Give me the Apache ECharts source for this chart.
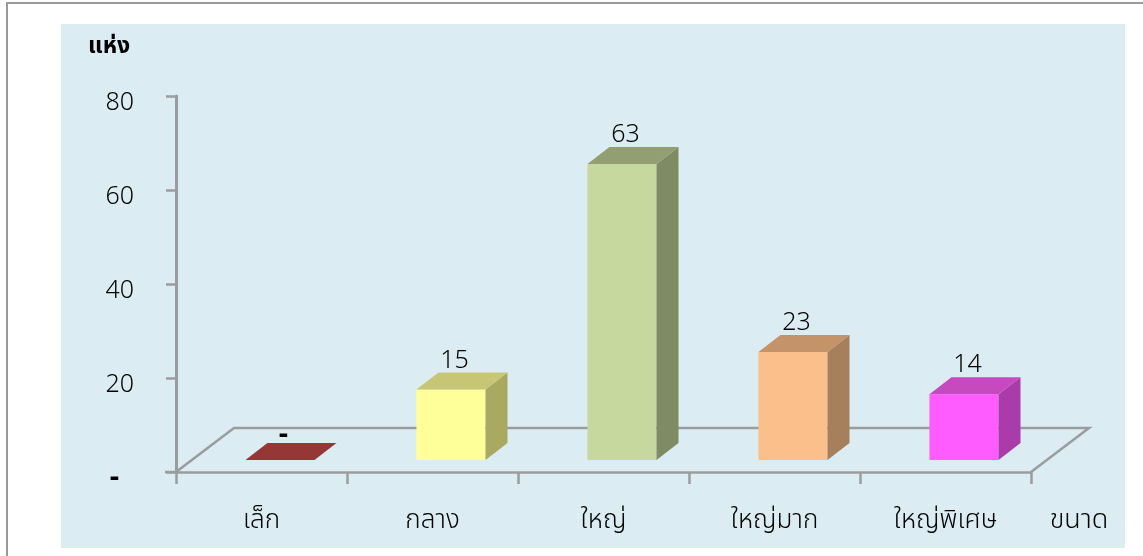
<!DOCTYPE html>
<html>
<head>
<meta charset="utf-8">
<style>html,body{margin:0;padding:0;background:#fff}#chart{width:1143px;height:556px}</style>
<script src="https://cdn.jsdelivr.net/npm/echarts@6/dist/echarts.min.js"></script>
</head>
<body>
<div id="chart"></div>
<script>
const categories = ['เล็ก', 'กลาง', 'ใหญ่', 'ใหญ่มาก', 'ใหญ่พิเศษ'];
const values = [0, 15, 63, 23, 14];
const yTicks = [0, 20, 40, 60, 80];

// face, top, side
const palette = [
  ['#953735', '#953735', '#953735'],
  ['#FFFF99', '#C6C674', '#A9A962'],
  ['#C6D89E', '#929F73', '#7E8B63'],
  ['#FBBF8C', '#C59369', '#A67F5C'],
  ['#FF5CFF', '#C649BF', '#A93CA8']
];

const font = '"Noto Sans Thai", Inter, "Noto Sans", sans-serif';
const axisColor = '#9A9C9E';
const depthX = 22, depthY = 17, floorX = 58, floorY = 44, baseLift = 12;

function formatValue(v) {
  return v === 0 ? '-' : String(v);
}

// floor of the fake 3D box, drawn from the grid rectangle
function renderFloor(params, api) {
  const g = params.coordSys;
  const x0 = g.x, y0 = g.y + g.height, x1 = g.x + g.width;
  return {
    type: 'group',
    children: [
      {
        type: 'polyline',
        shape: { points: [[x0, y0], [x0 + floorX, y0 - floorY], [x1 + floorX, y0 - floorY], [x1, y0]] },
        style: { stroke: axisColor, lineWidth: 2.5, fill: 'none' }
      },
      {
        type: 'line',
        shape: { x1: x0 - 11, y1: y0, x2: x0, y2: y0 },
        style: { stroke: axisColor, lineWidth: 2.5 }
      }
    ]
  };
}

function renderBar(params, api) {
  const i = api.value(0);
  const v = api.value(1);
  const band = api.size([1, 0])[0];
  const w = band * 0.404;
  const center = api.coord([i, 0])[0];
  const left = center - band * 0.094;
  const right = left + w;
  const bottom = api.coord([i, 0])[1] - baseLift;
  const top = api.coord([i, v])[1] - baseLift;
  const c = palette[i];
  const poly = (pts, fill) => ({ type: 'polygon', shape: { points: pts }, style: { fill: fill } });
  const children = [];
  if (v > 0) {
    children.push(poly([[left, bottom], [right, bottom], [right, top], [left, top]], c[0]));
    children.push(poly([[right, bottom], [right + depthX, bottom - depthY], [right + depthX, top - depthY], [right, top]], c[2]));
  }
  children.push(poly([[left, top], [left + depthX, top - depthY], [right + depthX, top - depthY], [right, top]], c[1]));
  children.push({
    type: 'text',
    style: {
      x: center + 22, y: top - depthY - (v === 0 ? 6 : 10),
      text: formatValue(v),
      fill: '#000',
      font: (v === 0 ? 'bold 29px ' : '300 25px ') + font,
      align: 'center', verticalAlign: 'middle'
    }
  });
  return { type: 'group', children: children };
}

const chart = echarts.init(document.getElementById('chart'), null, { renderer: 'canvas' });
chart.setOption({
  animation: false,
  backgroundColor: '#fff',
  graphic: [
    { type: 'rect', z: -10, shape: { x: 61, y: 24, width: 1064, height: 524 }, style: { fill: '#DBEDF3' } },
    { type: 'polyline', z: -9, shape: { points: [[7, 556], [7, 3], [1143, 3]] }, style: { stroke: '#999', lineWidth: 2, fill: 'none' } },
    { type: 'text', z: 5, style: { x: 109, y: 48, text: 'แห่ง', fill: '#000', font: 'bold 23px ' + font, align: 'center', verticalAlign: 'middle' } },
    { type: 'text', z: 5, style: { x: 1079, y: 523, text: 'ขนาด', fill: '#000', font: '300 27px ' + font, align: 'center', verticalAlign: 'middle' } }
  ],
  grid: { left: 176, right: 112, top: 96, bottom: 84 },
  xAxis: {
    type: 'category',
    data: categories,
    axisLine: { lineStyle: { color: axisColor, width: 2.5 } },
    axisTick: { show: true, length: 12, lineStyle: { color: axisColor, width: 2.5 } },
    axisLabel: { color: '#000', fontFamily: font, fontWeight: 300, fontSize: 26, margin: 38 },
    splitLine: { show: false }
  },
  yAxis: {
    type: 'value',
    min: 0,
    max: yTicks[yTicks.length - 1],
    interval: 20,
    axisLine: { show: true, lineStyle: { color: axisColor, width: 3 } },
    axisTick: { show: true, length: 10, lineStyle: { color: axisColor, width: 2.5 } },
    axisLabel: {
      color: '#000', fontFamily: font, fontWeight: 300, fontSize: 25, margin: 42,
      padding: [17, 0, 0, 0],
      formatter: v => v === 0 ? '{zero|-}' : String(v),
      rich: { zero: { fontSize: 29, fontWeight: 'bold', fontFamily: font, color: '#000', padding: [0, 15, 0, 0] } }
    },
    splitLine: { show: false }
  },
  series: [
    { type: 'custom', renderItem: renderFloor, data: [[0, 0]], encode: { x: 0, y: 1 }, silent: true, clip: false, z: 1 },
    { type: 'custom', renderItem: renderBar, data: values.map((v, i) => [i, v]), encode: { x: 0, y: 1 }, clip: false, z: 2 }
  ]
});
</script>
</body>
</html>
